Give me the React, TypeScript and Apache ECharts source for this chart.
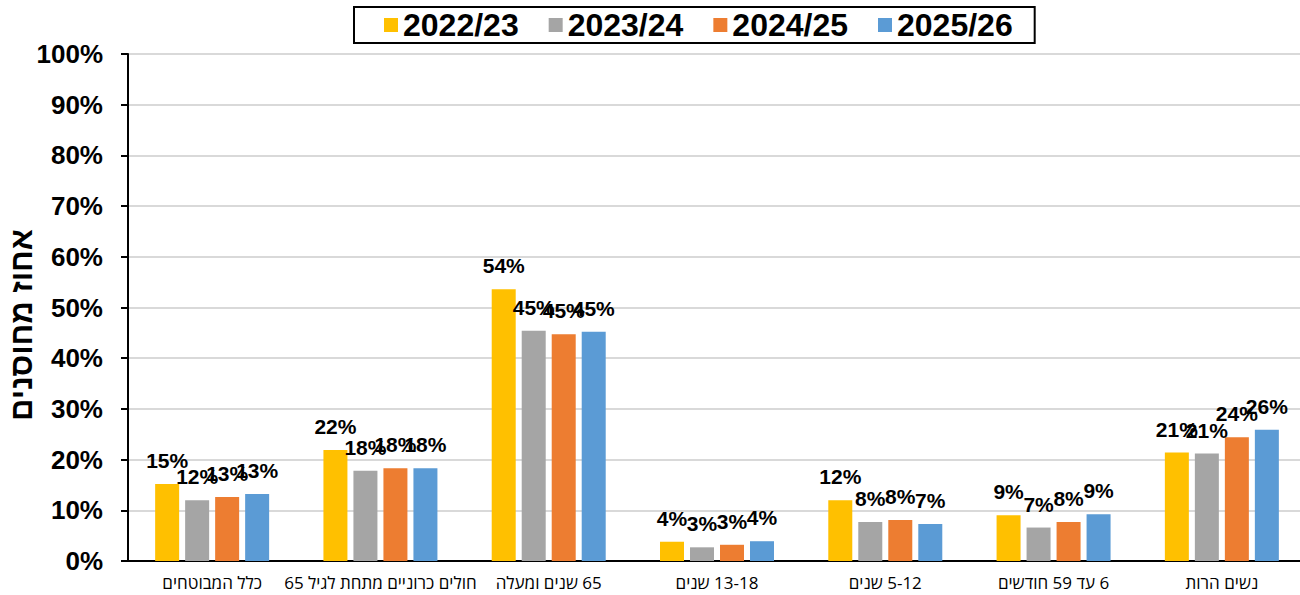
import React, { useEffect, useRef } from "react";
import * as echarts from "echarts";

const categories = [
  "כלל המבוטחים",
  "חולים כרוניים מתחת לגיל 65",
  "65 שנים ומעלה",
  "13-18 שנים",
  "5-12 שנים",
  "6 עד 59 חודשים",
  "נשים הרות",
];

const seriesNames = ["2022/23", "2023/24", "2024/25", "2025/26"];
const values2223 = [15.2, 21.9, 53.6, 3.8, 12.0, 9.0, 21.4];
const values2324 = [12.0, 17.8, 45.4, 2.7, 7.7, 6.6, 21.2];
const values2425 = [12.6, 18.3, 44.7, 3.2, 8.1, 7.7, 24.4];
const values2526 = [13.2, 18.3, 45.2, 3.9, 7.3, 9.2, 25.9];
const colors = ["#FFC000", "#A5A5A5", "#ED7D31", "#5B9BD5"];
const yAxisTitle = "אחוז מחוסנים";

export default function App() {
  const ref = useRef<HTMLDivElement>(null);
  useEffect(() => {
    if (!ref.current) return;
    const chart = echarts.init(ref.current, null, { renderer: "svg" });
    const all = [values2223, values2324, values2425, values2526];
    chart.setOption({
      animation: false,
      backgroundColor: "#ffffff",
      legend: {
        left: 354,
        top: 7,
        data: seriesNames,
        icon: "rect",
        itemWidth: 14,
        itemHeight: 14,
        itemGap: 30,
        borderColor: "#000",
        borderWidth: 2,
        padding: [2, 22, 2, 30],
        backgroundColor: "#fff",
        textStyle: {
          fontFamily: "Liberation Sans",
          fontWeight: "bold",
          fontSize: 32,
          color: "#000",
        },
      },
      graphic: [
        {
          type: "text",
          x: 21,
          y: 325,
          rotation: Math.PI / 2,
          style: {
            text: yAxisTitle,
            fontFamily: "Liberation Sans",
            fontWeight: "bold",
            fontSize: 31,
            fill: "#000",
            align: "center",
            verticalAlign: "middle",
          },
        },
      ],
      grid: {
        left: 128,
        right: -6,
        top: 54,
        bottom: 34,
        containLabel: false,
        outerBoundsMode: "none",
      },
      xAxis: {
        type: "category",
        data: categories.map((c) => "\u202B" + c + "\u202C"),
        axisLine: { lineStyle: { color: "#000", width: 2 } },
        axisTick: { show: false },
        axisLabel: {
          interval: 0,
          margin: 13,
          fontFamily: "Open Sans, DejaVu Sans",
          fontSize: 17,
          color: "#000",
        },
      },
      yAxis: {
        type: "value",
        min: 0,
        max: 100,
        interval: 10,
        axisLine: { show: true, lineStyle: { color: "#000", width: 2 } },
        axisTick: { show: true, length: 7, lineStyle: { color: "#000", width: 2 } },
        splitLine: { lineStyle: { color: "#D9D9D9", width: 2 } },
        axisLabel: {
          formatter: "{value}%",
          margin: 25,
          fontFamily: "Liberation Sans",
          fontWeight: "bold",
          fontSize: 26,
          color: "#000",
        },
      },
      series: seriesNames.map((name, i) => ({
        name,
        type: "bar",
        data: all[i],
        barWidth: 24,
        barGap: "25%",
        itemStyle: { color: colors[i] },
        label: {
          show: true,
          position: "top",
          distance: 13,
          formatter: (p: any) => Math.round(p.value) + "%",
          fontFamily: "Liberation Sans",
          fontWeight: "bold",
          fontSize: 21,
          color: "#000",
        },
      })),
    });
    return () => chart.dispose();
  }, []);
  return (
    <div
      ref={ref}
      style={{ position: "absolute", left: 0, top: 0, width: 1300, height: 595 }}
    />
  );
}
